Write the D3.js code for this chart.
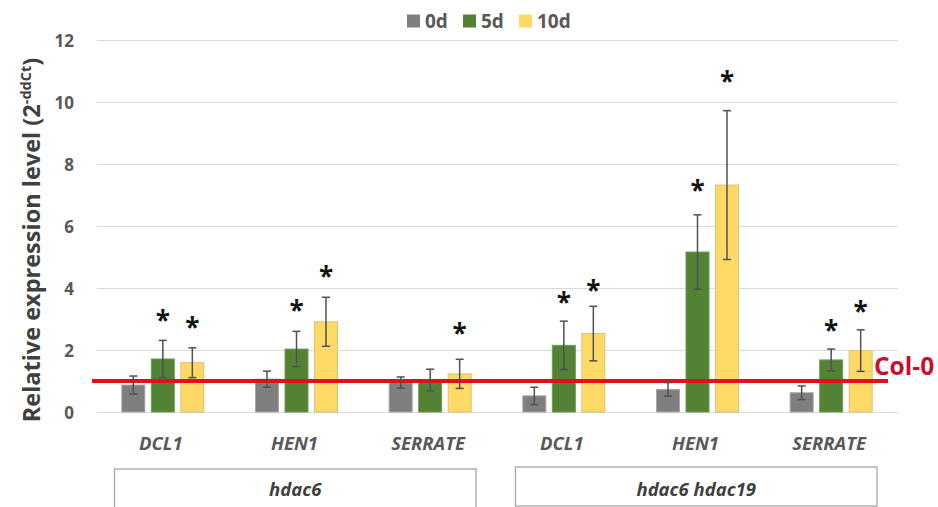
<!DOCTYPE html>
<html><head><meta charset="utf-8">
<script src="https://cdn.jsdelivr.net/npm/d3@7"></script>
<style>html,body{margin:0;padding:0;background:#fff;}svg{display:block;}</style>
</head><body>
<svg id="chart" width="938" height="507"></svg>
<script>
// ---- data ----
const genes = ["DCL1", "HEN1", "SERRATE", "DCL1", "HEN1", "SERRATE"];
const genotypes = ["hdac6", "hdac6 hdac19"];
const genotypeOfGene = [0, 0, 0, 1, 1, 1];
const seriesNames = ["0d", "5d", "10d"];
const values0d  = [0.87, 1.06, 0.95, 0.52, 0.73, 0.62];
const err0d     = [0.29, 0.26, 0.18, 0.28, 0.22, 0.22];
const values5d  = [1.71, 2.03, 1.03, 2.15, 5.16, 1.68];
const err5d     = [0.60, 0.57, 0.35, 0.78, 1.20, 0.35];
const values10d = [1.59, 2.91, 1.23, 2.53, 7.32, 1.98];
const err10d    = [0.48, 0.79, 0.47, 0.88, 2.40, 0.67];
// asterisk heights (in y units), null = no asterisk
const star0d  = [null, null, null, null, null, null];
const star5d  = [3.06, 3.40, null, 3.65, 7.27, 2.75];
const star10d = [2.84, 4.48, 2.65, 4.03, 10.77, 3.35];
const yTicks = [0, 2, 4, 6, 8, 10, 12];
const controlLevel = 1;
const controlLabel = "Col-0";

const colors = ["#7f7f7f", "#548235", "#ffd966"];
const strokes = ["#a6a6a6", "#6f9a52", "#d9c27a"];

const series = [
  {name: seriesNames[0], v: values0d, e: err0d, s: star0d},
  {name: seriesNames[1], v: values5d, e: err5d, s: star5d},
  {name: seriesNames[2], v: values10d, e: err10d, s: star10d}
];

const svg = d3.select("#chart");
const FONT = "'Open Sans', 'DejaVu Sans', sans-serif";

const x0 = d3.scaleBand().domain(d3.range(genes.length)).range([96, 898]).paddingInner(0).paddingOuter(0);
const x1 = d3.scaleBand().domain(d3.range(3)).range([0, x0.bandwidth()]).paddingInner(0.22).paddingOuter(0.876);
const y = d3.scaleLinear().domain([0, 12]).range([412, 40]);

// gridlines
svg.append("g").selectAll("line").data(yTicks).join("line")
  .attr("x1", 97).attr("x2", 898)
  .attr("y1", d => y(d) + 0.5).attr("y2", d => y(d) + 0.5)
  .attr("stroke", "#d9d9d9").attr("stroke-width", 1.2);

// y axis labels
const yAxis = d3.axisLeft(y).tickValues(yTicks).tickSize(0).tickPadding(0);
const yg = svg.append("g").attr("transform", "translate(74,0)").call(yAxis);
yg.select(".domain").remove();
yg.selectAll("text").attr("font-family", FONT).attr("font-weight", "bold")
  .attr("font-size", 17).attr("fill", "#595959").attr("dy", "0.36em");

// y title
const yt = svg.append("text")
  .attr("transform", "translate(40,240) rotate(-90)")
  .attr("text-anchor", "middle")
  .attr("font-family", FONT).attr("font-weight", "bold").attr("font-size", 23.5)
  .attr("fill", "#404040");
yt.append("tspan").text("Relative expression level (2");
yt.append("tspan").attr("font-size", 14.5).attr("dy", -9).text("-ddCt");
yt.append("tspan").attr("dy", 9).text(")");

// bars
series.forEach((s, si) => {
  const g = svg.append("g");
  g.selectAll("rect").data(d3.range(genes.length)).join("rect")
    .attr("x", i => x0(i) + x1(si))
    .attr("width", x1.bandwidth())
    .attr("y", i => y(s.v[i]))
    .attr("height", i => y(0) - y(s.v[i]))
    .attr("fill", colors[si])
    .attr("stroke", strokes[si]).attr("stroke-width", 1);
});

// control line (drawn over bars, under error bars)
svg.append("line")
  .attr("x1", 92).attr("x2", 888)
  .attr("y1", y(controlLevel)).attr("y2", y(controlLevel))
  .attr("stroke", "#e3101a").attr("stroke-width", 4);
svg.append("text").attr("x", 874).attr("y", y(controlLevel) - 6)
  .attr("font-family", FONT).attr("font-weight", "bold").attr("font-size", 24.5)
  .attr("fill", "#c8102e").text(controlLabel);

// error bars and stars
series.forEach((s, si) => {
  const g = svg.append("g").attr("stroke", "#505050").attr("stroke-width", 1.5);
  d3.range(genes.length).forEach(i => {
    const cx = x0(i) + x1(si) + x1.bandwidth() / 2;
    const top = y(s.v[i] + s.e[i]), bot = y(s.v[i] - s.e[i]);
    g.append("line").attr("x1", cx).attr("x2", cx).attr("y1", top).attr("y2", bot);
    g.append("line").attr("x1", cx - 4).attr("x2", cx + 4).attr("y1", top).attr("y2", top);
    g.append("line").attr("x1", cx - 4).attr("x2", cx + 4).attr("y1", bot).attr("y2", bot);
    if (s.s[i] != null) {
      svg.append("text").attr("x", cx).attr("y", y(s.s[i]) + 13)
        .attr("text-anchor", "middle")
        .attr("font-family", FONT).attr("font-weight", "bold").attr("font-size", 26)
        .attr("fill", "#111").text("*");
    }
  });
});

// x labels
svg.append("g").selectAll("text").data(d3.range(genes.length)).join("text")
  .attr("x", i => x0(i) + x0.bandwidth() / 2 - 2)
  .attr("y", 450)
  .attr("text-anchor", "middle")
  .attr("font-family", FONT).attr("font-weight", "bold").attr("font-style", "italic")
  .attr("font-size", 18.5).attr("fill", "#595959")
  .text(i => genes[i]);

// genotype boxes
genotypes.forEach((gname, gi) => {
  const idx = d3.range(genes.length).filter(i => genotypeOfGene[i] === gi);
  const left = x0(idx[0]) + 18.5;
  const right = x0(idx[idx.length - 1]) + x0.bandwidth() - 21;
  const top = gi === 0 ? 469 : 467;
  svg.append("rect").attr("x", left).attr("y", top)
    .attr("width", right - left).attr("height", gi === 0 ? 50 : 39)
    .attr("fill", "none").attr("stroke", "#a6a6a6").attr("stroke-width", 1.3);
  svg.append("text").attr("x", (left + right) / 2).attr("y", 496)
    .attr("text-anchor", "middle")
    .attr("font-family", FONT).attr("font-weight", "bold").attr("font-style", "italic")
    .attr("font-size", 18.5).attr("fill", "#404040").text(gname);
});

// legend
const legX = [407, 463, 519];
const lg = svg.append("g");
seriesNames.forEach((n, i) => {
  lg.append("rect").attr("x", legX[i]).attr("y", 14.5).attr("width", 13).attr("height", 13)
    .attr("fill", colors[i]);
  lg.append("text").attr("x", legX[i] + 18).attr("y", 28)
    .attr("font-family", FONT).attr("font-weight", "bold").attr("font-size", 19)
    .attr("fill", "#595959").text(n);
});
</script>
</body></html>
